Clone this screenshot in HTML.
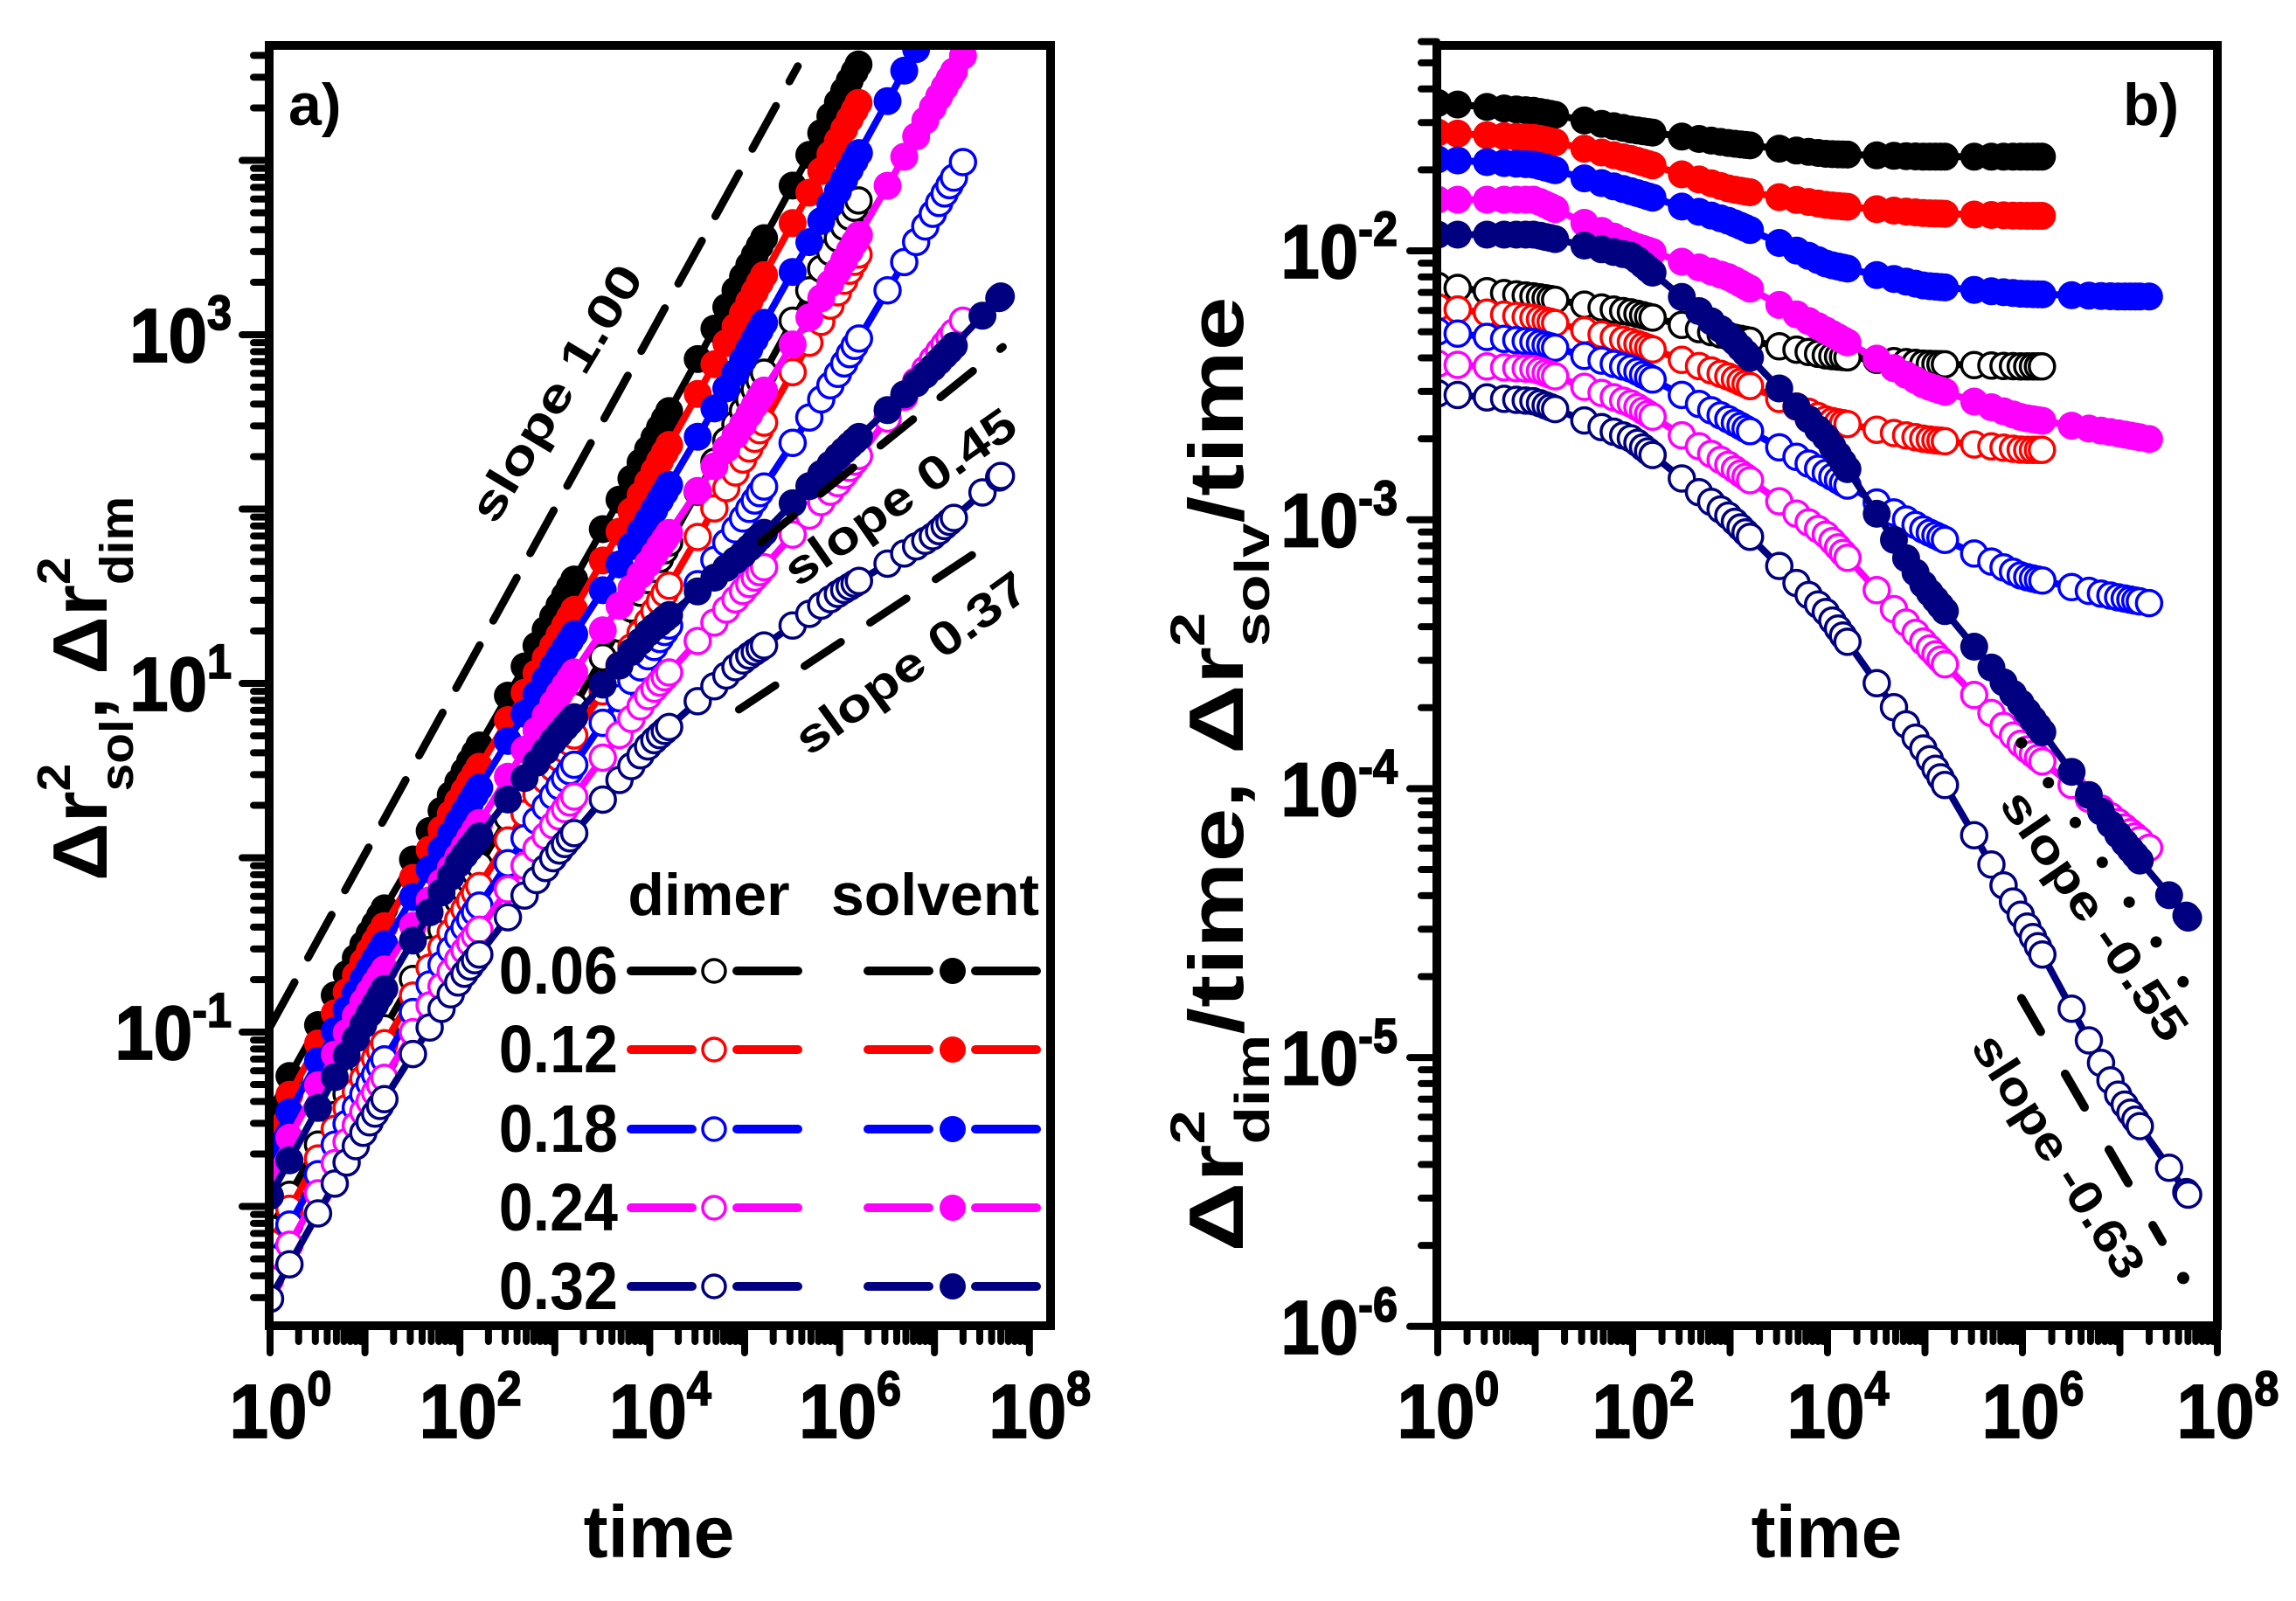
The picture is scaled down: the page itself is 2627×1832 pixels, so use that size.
<!DOCTYPE html>
<html><head><meta charset="utf-8">
<style>
body{margin:0;background:#fff}
svg{display:block}
text{font-family:"Liberation Sans",Arial,sans-serif;font-weight:bold;fill:#000}
</style></head>
<body>
<svg id="chart" xmlns="http://www.w3.org/2000/svg" width="2627" height="1832" viewBox="0 0 2627 1832">
<defs>
<clipPath id="clipL"><rect x="313" y="57" width="884" height="1455"/></clipPath>
<clipPath id="clipR"><rect x="1649" y="57" width="883" height="1455"/></clipPath>
</defs>
</svg>
<script>
// ---- data (log10 of MSD/time at t = 10^timeDecades) ----
const timeDecades=[0,1,2,3,4,5,6,7];
const concentrations=['0.06','0.12','0.18','0.24','0.32'];
const dimer06=[-2.13,-2.17,-2.23,-2.32,-2.39,-2.42,-2.43];
const dimer12=[-2.21,-2.25,-2.34,-2.47,-2.63,-2.70,-2.74];
const dimer18=[-2.30,-2.34,-2.44,-2.63,-2.83,-3.04,-3.21,-3.29];
const dimer24=[-2.42,-2.44,-2.57,-2.80,-3.06,-3.46,-3.84,-4.13];
const dimer32=[-2.53,-2.56,-2.70,-2.99,-3.35,-3.86,-4.48,-5.15];
const solvent06=[-1.45,-1.48,-1.55,-1.60,-1.64,-1.65,-1.65];
const solvent12=[-1.56,-1.58,-1.66,-1.77,-1.83,-1.86,-1.87];
const solvent18=[-1.66,-1.68,-1.78,-1.89,-2.05,-2.13,-2.16,-2.17];
const solvent24=[-1.81,-1.81,-1.98,-2.10,-2.30,-2.50,-2.62,-2.68];
const solvent32=[-1.94,-1.94,-2.02,-2.32,-2.70,-3.25,-3.69,-4.18];
const seriesEndLogT=[6.2,6.2,7.3,7.3,7.7];
const dimerEnd=[-2.43,-2.74,-3.31,-4.22,-5.51];
const solventEnd=[-1.65,-1.87,-2.17,-2.70,-4.48];
const dimerSeries=[dimer06,dimer12,dimer18,dimer24,dimer32];
const solventSeries=[solvent06,solvent12,solvent18,solvent24,solvent32];
const seriesColors=['#000000','#ff0000','#0000ff','#ff00ff','#000080'];
const xTickLabels=['0','2','4','6','8'];
const leftYTickLabels=['-1','1','3'];
const rightYTickLabels=['-2','-3','-4','-5','-6'];

const NS='http://www.w3.org/2000/svg';
const svg=document.getElementById('chart');
function mk(tag,attrs,parent){const e=document.createElementNS(NS,tag);for(const k in attrs)e.setAttribute(k,attrs[k]);(parent||svg).appendChild(e);return e;}

// axis functions
const LX=lt=>309+lt*108.6;
const LY=lv=>383+(3-lv)*199.5;
const RX=lt=>1645+lt*111.5;
const RY=lv=>287+(-2-lv)*307.7;

function interp(vals,endT,endV,lt){
  const pts=[];
  for(let i=0;i<vals.length;i++){if(timeDecades[i]<endT)pts.push([timeDecades[i],vals[i]]);}
  pts.push([endT,endV]);
  for(let i=0;i<pts.length-1;i++){
    if(lt>=pts[i][0]&&lt<=pts[i+1][0]){const f=(lt-pts[i][0])/(pts[i+1][0]-pts[i][0]);return pts[i][1]+f*(pts[i+1][1]-pts[i][1]);}
  }
  return pts[pts.length-1][1];
}
function markerTimes(endT){
  const ts=[0];
  for(let k=0;k<8;k++)for(let m=1;m<=9;m++){const lt=k+Math.log10(1.6*m);if(lt<endT-0.015)ts.push(lt);}
  ts.push(endT);return ts;
}

function drawSeries(g,vals,endT,endV,color,filled,fx,fy,leftPanel,name){
  const sg=mk('g',{},g);
  
  
  const ts=markerTimes(endT);
  const pts=ts.map(lt=>{const v=interp(vals,endT,endV,lt);return [fx(lt),fy(leftPanel?v+lt:v)];});
  const line=mk('polyline',{points:pts.map(p=>p[0].toFixed(1)+','+p[1].toFixed(1)).join(' '),fill:'none',stroke:color,'stroke-width':8},sg);
  
  
  pts.forEach(p=>{
    const c=mk('circle',{cx:p[0].toFixed(1),cy:p[1].toFixed(1),r:filled?16:14.5,fill:filled?color:'#fff',stroke:color,'stroke-width':filled?0:3.5},sg);
    
    
  });
}

function drawPanel(id,fx,fy,leftPanel,clip){
  const g=mk('g',{'clip-path':'url(#'+clip+')'});
  
  
  for(let i=0;i<5;i++)drawSeries(g,dimerSeries[i],seriesEndLogT[i],dimerEnd[i],seriesColors[i],false,fx,fy,leftPanel,'dimer-'+concentrations[i].replace('.','')+'-series');
  for(let i=0;i<5;i++)drawSeries(g,solventSeries[i],seriesEndLogT[i],solventEnd[i],seriesColors[i],true,fx,fy,leftPanel,'solvent-'+concentrations[i].replace('.','')+'-series');
  return g;
}
const gL=drawPanel('panel-a',LX,LY,true,'clipL');
const gR=drawPanel('panel-b',RX,RY,false,'clipR');

// slope guides
const guideLeft1=[[0.01,-0.96],[5.56,4.54]];
const guideLeft045=[[5.17,1.81],[7.72,2.93]];
const guideLeft037=[[4.94,0.85],[7.49,1.77]];
const guideRight055=[[5.99,-3.83],[7.67,-4.73]];
const guideRight063=[[5.99,-4.78],[7.65,-5.82]];
function guide(pts,fx,fy,dash,w,cap,name,parent){
  const l=mk('line',{x1:fx(pts[0][0]),y1:fy(pts[0][1]),x2:fx(pts[1][0]),y2:fy(pts[1][1]),stroke:'#000','stroke-width':w,'stroke-dasharray':dash,'stroke-linecap':cap},parent);
  
  
}
guide(guideLeft1,LX,LY,'56 32',9,'round','slope-1.00-guide',gL);
guide(guideLeft045,LX,LY,'48 40',9,'round','slope-0.45-guide',gL);
guide(guideLeft037,LX,LY,'50 40',9,'round','slope-0.37-guide',gL);
guide(guideRight055,RX,RY,'0 55',13,'round','slope-minus-0.55-guide',gR);
{
  const p=guideRight063, f=0.87;
  const mid=[p[0][0]+(p[1][0]-p[0][0])*f,p[0][1]+(p[1][1]-p[0][1])*f];
  guide([p[0],mid],RX,RY,'44 56',10,'round','slope-minus-0.63-guide',gR);
  const d=mk('circle',{cx:RX(p[1][0]),cy:RY(p[1][1]),r:7,fill:'#000'},gR);
  
  
}

// slope texts
function rotText(str,x,y,ang,len,name){
  const t=mk('text',{x:0,y:0,transform:`translate(${x},${y}) rotate(${ang})`,'text-anchor':'middle','font-size':54,'dominant-baseline':'middle',textLength:len,lengthAdjust:'spacingAndGlyphs'});
  t.textContent=str;
  
  
}
rotText('slope 1.00',640,452,-59,332,'slope-1.00-label');
rotText('slope 0.45',1032,572,-35,311,'slope-0.45-label');
rotText('slope 0.37',1045,762,-36,315,'slope-0.37-label');
rotText('slope -0.55',2393,1050,55.5,335,'slope-minus-0.55-label');
rotText('slope -0.63',2352,1325,57.5,320,'slope-minus-0.63-label');

// frames & ticks
function frame(x1,x2,name){
  const r=mk('rect',{x:x1,y:52,width:x2-x1,height:1517-52,fill:'none',stroke:'#000','stroke-width':10});
  
  
}
frame(308,1202,'panel-a-frame');
frame(1644,2537,'panel-b-frame');

function tick(x1,y1,x2,y2,name){
  const l=mk('line',{x1,y1,x2,y2,stroke:'#000','stroke-width':8,'stroke-linecap':'round'});
  
  
}
function xTicks(fx,xmaxLog){
  for(let k=0;k<=8;k++){
    if(k<=xmaxLog+0.001)tick(fx(k),1517,fx(k),1548,'x-major-tick');
    for(let m=2;m<=9;m++){const lt=k+Math.log10(m);if(lt<xmaxLog)tick(fx(lt),1517,fx(lt),1535,'x-minor-tick');}
  }
}
xTicks(LX,8.2);xTicks(RX,8);
function yTicks(fy,x0,lo,hi){
  for(let k=Math.floor(lo);k<=Math.ceil(hi);k++){
    if(k>=lo-0.001&&k<=hi)tick(x0-31,fy(k),x0,fy(k),'y-major-tick');
    for(let m=2;m<=9;m++){const lv=k+Math.log10(m);if(lv>lo&&lv<hi)tick(x0-18,fy(lv),x0,fy(lv),'y-minor-tick');}
  }
}
yTicks(LY,308,-2.68,4.68);
yTicks(RY,1644,-6,-1.22);

// tick labels
function powLabel(x,y,exp,anchor,name){
  const t=mk('text',{x:0,y:0,transform:`translate(${x},${y}) scale(1.05,1.15)`,'text-anchor':anchor,'font-size':76,stroke:'#000','stroke-width':1.5});
  const a=mk('tspan',{},t);a.textContent='10';
  const b=mk('tspan',{'font-size':48,dy:-32},t);b.textContent=exp;
  
  
}
xTickLabels.forEach(e=>{powLabel(LX(+e)+12,1645,e,'middle','x-tick-label');});
xTickLabels.forEach(e=>{powLabel(RX(+e)+12,1645,e,'middle','x-tick-label');});
leftYTickLabels.forEach(e=>{powLabel(265,LY(+e)+31,e,'end','y-tick-label');});
rightYTickLabels.forEach(e=>{powLabel(1599,RY(+e)+31,e,'end','y-tick-label');});

// axis titles
function plain(str,x,y,size,anchor,name){
  const t=mk('text',{x,y,'font-size':size,'text-anchor':anchor});
  t.textContent=str;
  
  
  return t;
}
plain('time',754,1782,84,'middle','x-axis-title-a');
plain('time',2090,1782,84,'middle','x-axis-title-b');
plain('a)',330,143,68,'start','panel-a-label');
plain('b)',2429,143,68,'start','panel-b-label');

function yTitle(parts,cx,cy,len,name){
  const t=mk('text',{x:0,y:0,transform:`translate(${cx},${cy}) rotate(-90)`,'text-anchor':'middle','font-size':88,textLength:len,lengthAdjust:'spacingAndGlyphs'});
  parts.forEach(p=>{const s=mk('tspan',p[1],t);s.textContent=p[0];});
  
  
}
yTitle([['Δr',{}],['2',{'font-size':54,dy:-42}],['sol',{'font-size':54,dx:-30,dy:72}],[', Δr',{dy:-30}],['2',{'font-size':54,dy:-42}],['dim',{'font-size':54,dx:-30,dy:72}]],122,788,440,'y-axis-title-a');
yTitle([['Δr',{}],['2',{'font-size':56,dy:-44}],['dim',{'font-size':56,dx:-31,dy:74}],['/time, Δr',{dy:-30}],['2',{'font-size':56,dy:-44}],['solv',{'font-size':56,dx:-31,dy:74}],['/time',{dy:-30}]],1422,886,1093,'y-axis-title-b');

// legend
const legendRowsY=[1111,1201,1292,1382,1472];
const lg=mk('g',{});


{
  const h1=mk('text',{x:811,y:1047,'font-size':68,'text-anchor':'middle'},lg);h1.textContent='dimer';
  
  
  const h2=mk('text',{x:1070,y:1047,'font-size':68,'text-anchor':'middle'},lg);h2.textContent='solvent';
  
  
}
concentrations.forEach((c,i)=>{
  const y=legendRowsY[i],col=seriesColors[i];
  const e=mk('g',{},lg);
  
  
  const t=mk('text',{x:707,y:y+26,'font-size':70,'text-anchor':'end',transform:`translate(0,${-(y+26)*0.1}) scale(1,1.1)`},e);t.textContent=c;
  mk('line',{x1:722,y1:y,x2:792,y2:y,stroke:col,'stroke-width':10,'stroke-linecap':'round'},e);
  mk('line',{x1:843,y1:y,x2:913,y2:y,stroke:col,'stroke-width':10,'stroke-linecap':'round'},e);
  mk('circle',{cx:817,cy:y,r:13,fill:'#fff',stroke:col,'stroke-width':3.5},e);
  mk('line',{x1:993,y1:y,x2:1063,y2:y,stroke:col,'stroke-width':10,'stroke-linecap':'round'},e);
  mk('line',{x1:1116,y1:y,x2:1186,y2:y,stroke:col,'stroke-width':10,'stroke-linecap':'round'},e);
  mk('circle',{cx:1090,cy:y,r:15,fill:col},e);
});
</script>
</body></html>
